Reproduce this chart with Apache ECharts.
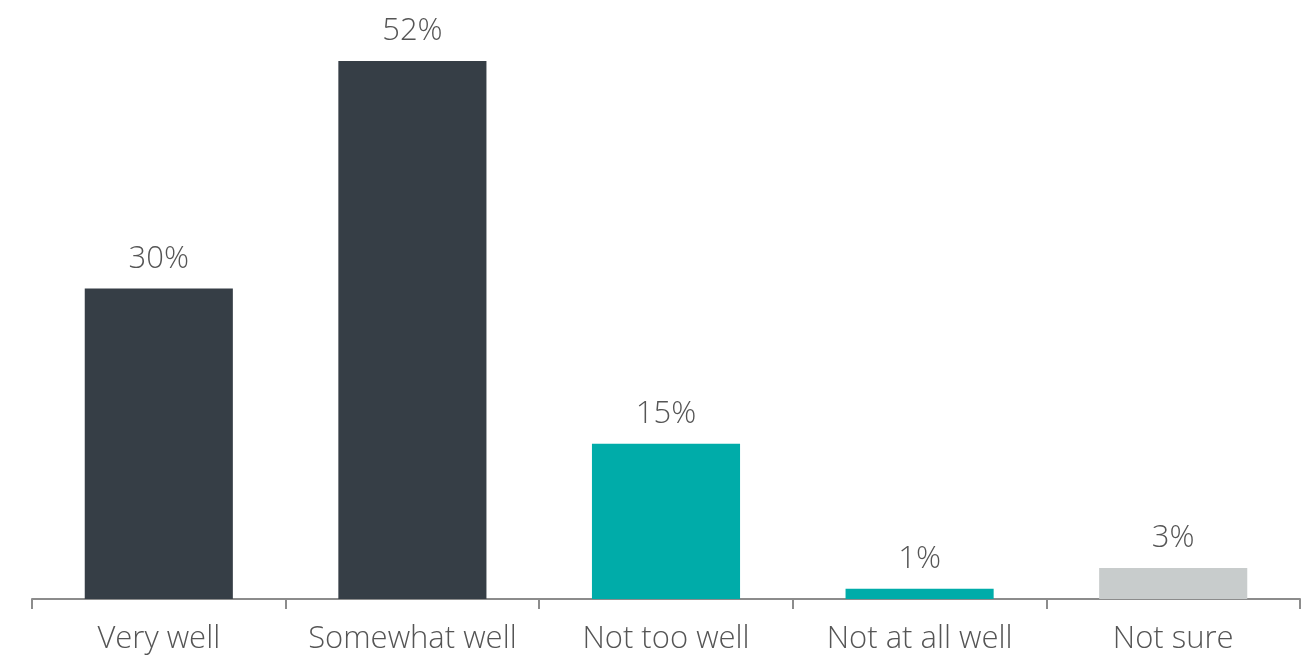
<!DOCTYPE html>
<html><head><meta charset="utf-8">
<script src="https://cdn.jsdelivr.net/npm/echarts@6/dist/echarts.min.js"></script>
<style>html,body{margin:0;padding:0;background:#fff}#c{width:1301px;height:656px}</style>
</head><body><div id="c"></div>
<script>
const categories = ["Very well", "Somewhat well", "Not too well", "Not at all well", "Not sure"];
const values = [30, 52, 15, 1, 3];
const colors = ["#363e46", "#363e46", "#00aca9", "#00aca9", "#c8cccc"];
const chart = echarts.init(document.getElementById('c'));
chart.setOption({
  animation: false,
  grid: {left: 32, right: 1, top: 61, bottom: 57, containLabel: false},
  xAxis: {
    type: 'category', data: categories,
    axisLine: {lineStyle: {color: '#8c8c8c', width: 2}},
    axisTick: {show: true, interval: 0, length: 10, lineStyle: {color: '#8c8c8c', width: 2}},
    axisLabel: {interval: 0, color: '#555555', fontSize: 31, fontWeight: 300, fontFamily: 'Open Sans', margin: 25}
  },
  yAxis: {type: 'value', min: 0, max: 52, show: false, splitLine: {show: false}},
  series: [{
    type: 'bar', barWidth: '58.4%',
    data: values.map((v, i) => ({value: v, itemStyle: {color: colors[i]}})),
    label: {show: true, position: 'top', distance: 14, formatter: '{c}%', color: '#555555', fontSize: 31, fontWeight: 300, fontFamily: 'Open Sans'}
  }]
});
</script></body></html>
